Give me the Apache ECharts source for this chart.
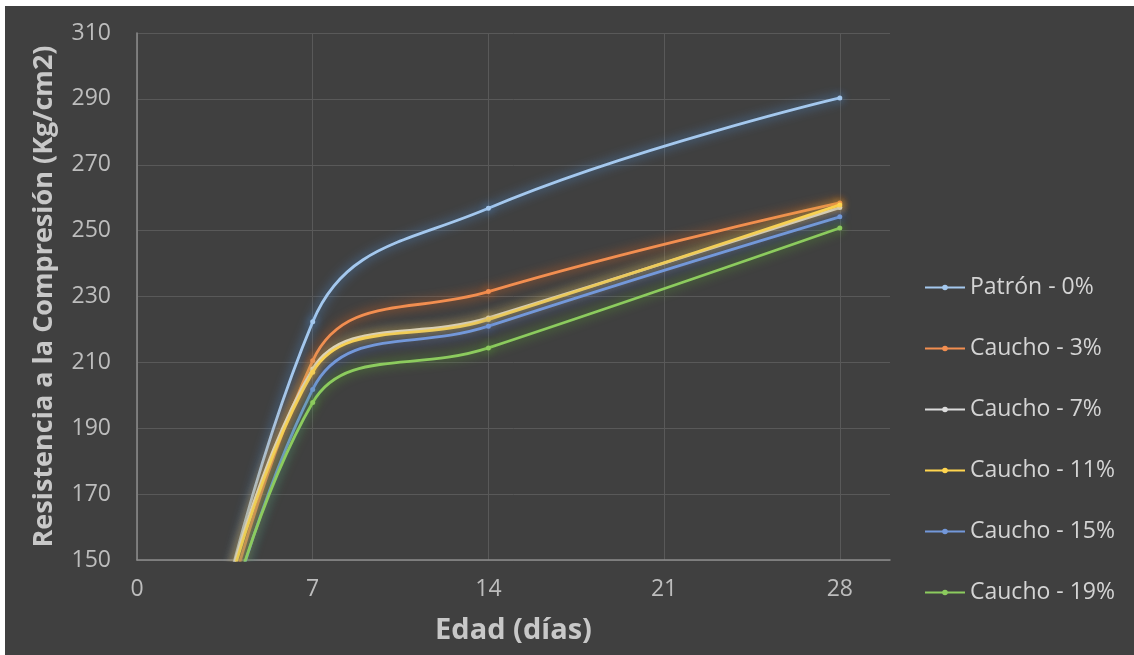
<!DOCTYPE html>
<html>
<head>
<meta charset="utf-8">
<script src="https://cdn.jsdelivr.net/npm/echarts@6/dist/echarts.min.js"></script>
<style>
  html, body { margin: 0; padding: 0; background: #ffffff; }
  #wrap { position: absolute; left: 5px; top: 6px; right: 0; bottom: 0; background: #404040; }
  #chart { position: absolute; left: 0; top: 0; width: 1134px; height: 655px; }
</style>
</head>
<body>
<div id="wrap"></div>
<div id="chart"></div>
<script>
// Edad de ensayo (días)
const edades = [0, 7, 14, 28];
const xTicks = [0, 7, 14, 21, 28];
const yTicks = [150, 170, 190, 210, 230, 250, 270, 290, 310];

// Resistencia a la compresión (Kg/cm2) por mezcla
const patron0 = [0, 222.3, 256.8, 290.3];
const caucho3 = [0, 210.5, 231.5, 258.4];
const caucho7 = [0, 208.0, 223.5, 257.0];
const caucho11 = [0, 207.0, 223.0, 257.8];
const caucho15 = [0, 201.8, 221.0, 254.2];
const caucho19 = [0, 197.8, 214.4, 250.8];

const nombres = ['Patrón - 0%', 'Caucho - 3%', 'Caucho - 7%', 'Caucho - 11%', 'Caucho - 15%', 'Caucho - 19%'];
const valores = [patron0, caucho3, caucho7, caucho11, caucho15, caucho19];
const colores = ['#a4c8ee', '#f28e50', '#dcdcdc', '#ffd54f', '#7398da', '#8ccb5e'];
const brillos = ['#4f8fd6', '#e8681e', '#a5a5a5', '#f2b100', '#3d67c4', '#5aa62e'];

const chart = echarts.init(document.getElementById('chart'), null, { renderer: 'canvas' });

// later mixes are painted over earlier ones; each line carries a soft glow
const series = nombres.map((n, i) => ({
  name: n,
  type: 'line',
  smooth: 0.42,
  clip: true,
  data: edades.map((x, j) => [x, valores[i][j]]),
  symbol: 'circle',
  symbolSize: 5,
  itemStyle: { color: colores[i], shadowBlur: 8, shadowColor: brillos[i] },
  lineStyle: { color: colores[i], width: 2.8, shadowBlur: 11, shadowColor: brillos[i] },
  z: 2 + i
}));

chart.setOption({
  backgroundColor: 'transparent',
  animation: false,
  textStyle: { fontFamily: 'Open Sans, sans-serif' },
  grid: { left: 137, right: 244, top: 33, bottom: 95, containLabel: false },
  legend: {
    orient: 'vertical',
    left: 924,
    top: 276,
    padding: 0,
    itemGap: 38,
    itemWidth: 40,
    itemHeight: 7,
    textStyle: { color: '#d4d4d4', fontSize: 23, fontFamily: 'Open Sans, sans-serif' },
    data: nombres
  },
  xAxis: {
    type: 'value',
    min: xTicks[0],
    max: 30,
    interval: 7,
    name: 'Edad (días)',
    nameLocation: 'middle',
    nameGap: 56,
    nameTextStyle: { color: '#c8c8c8', fontSize: 29, fontWeight: 'bold' },
    axisLine: { show: true, lineStyle: { color: '#8c8c8c', width: 1.5 } },
    axisTick: { show: false },
    axisLabel: {
      color: '#bdbdbd', fontSize: 23, margin: 18, showMaxLabel: false,
      formatter: v => (xTicks.indexOf(v) >= 0 ? String(v) : '')
    },
    splitLine: { show: true, showMaxLine: false, lineStyle: { color: '#595959', width: 1 } }
  },
  yAxis: {
    type: 'value',
    min: yTicks[0],
    max: yTicks[yTicks.length - 1],
    interval: 20,
    name: 'Resistencia a la Compresión (Kg/cm2)',
    nameLocation: 'middle',
    nameGap: 79,
    nameRotate: 90,
    nameTextStyle: { color: '#c8c8c8', fontSize: 27, fontWeight: 'bold' },
    axisLine: { show: true, lineStyle: { color: '#8c8c8c', width: 1.5 } },
    axisTick: { show: false },
    axisLabel: { color: '#bdbdbd', fontSize: 23, margin: 26 },
    splitLine: { show: true, lineStyle: { color: '#595959', width: 1 } }
  },
  series: series
});
</script>
</body>
</html>
